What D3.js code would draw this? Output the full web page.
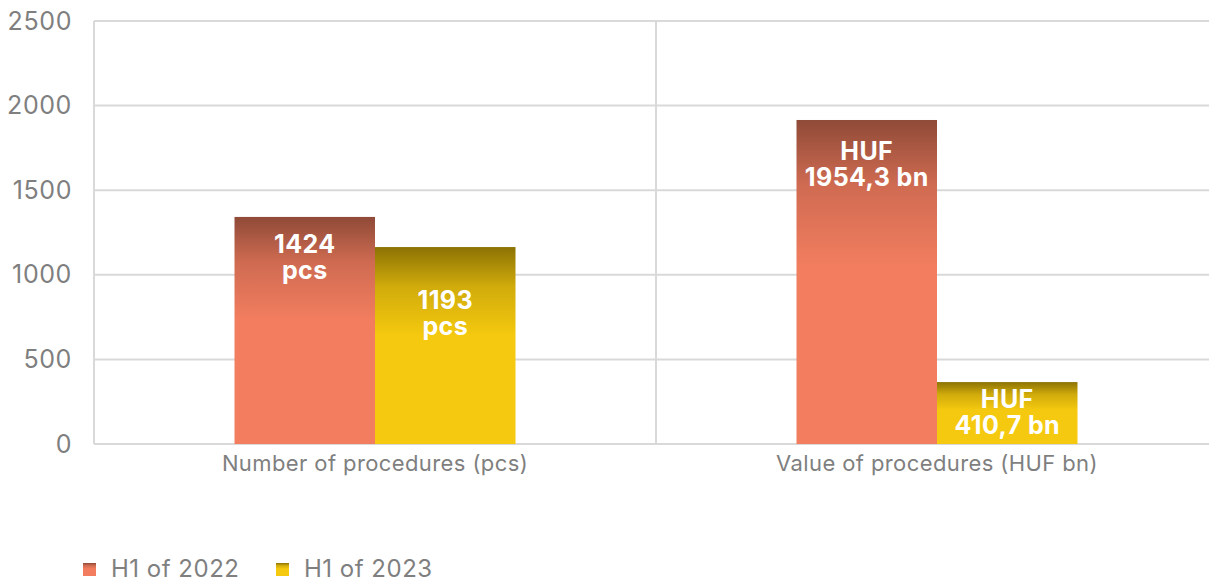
<!DOCTYPE html>
<html><head><meta charset="utf-8">
<script src="https://cdn.jsdelivr.net/npm/d3@7"></script>
<style>
html,body{margin:0;padding:0;background:#fff;}
svg{display:block;}
text{font-family:Inter,"Open Sans",sans-serif;}
</style></head>
<body><svg id="c" width="1209" height="585"></svg>
<script>
// ---- data ----
const categories = ["Number of procedures (pcs)", "Value of procedures (HUF bn)"];
const seriesNames = ["H1 of 2022", "H1 of 2023"];
const values2022 = [1342, 1915];   // bar heights as drawn
const values2023 = [1164, 366];
const labels2022 = [["1424", "pcs"], ["HUF", "1954,3 bn"]];
const labels2023 = [["1193", "pcs"], ["HUF", "410,7 bn"]];
const yTicks = [0, 500, 1000, 1500, 2000, 2500];

// ---- layout ----
(function () {
const svg = d3.select("#c");
const mLeft = 94, mRight = 1218, mTop = 21, mBottom = 444;
const y = d3.scaleLinear().domain([0, 2500]).range([mBottom, mTop]);
const x0 = d3.scaleBand().domain(categories).range([mLeft, mRight]).padding(0);
const x1 = d3.scaleBand().domain(seriesNames).range([0, x0.bandwidth()]).paddingInner(0).paddingOuter(1);

const colors = {
  "H1 of 2022": {top: "#8f4a38", bottom: "#f27d5f"},
  "H1 of 2023": {top: "#8c7204", bottom: "#f5c90f"}
};
const defs = svg.append("defs");
seriesNames.forEach((s, i) => {
  const g = defs.append("linearGradient").attr("id", "g" + i)
    .attr("x1", 0).attr("y1", 0).attr("x2", 0).attr("y2", 1);
  g.append("stop").attr("offset", 0).attr("stop-color", colors[s].top);
  g.append("stop").attr("offset", 0.2).attr("stop-color", d3.interpolateRgb(colors[s].top, colors[s].bottom)(0.65));
  g.append("stop").attr("offset", 0.45).attr("stop-color", colors[s].bottom);
  g.append("stop").attr("offset", 1).attr("stop-color", colors[s].bottom);
});

// gridlines
svg.append("g").selectAll("line").data(yTicks).join("line")
  .attr("x1", mLeft).attr("x2", mRight)
  .attr("y1", d => y(d)).attr("y2", d => y(d))
  .attr("stroke", "#d9d9d9").attr("stroke-width", 2);
// vertical separators
const seps = [mLeft].concat(categories.map(c => x0(c) + x0.bandwidth()));
svg.append("g").selectAll("line").data(seps).join("line")
  .attr("x1", d => d).attr("x2", d => d)
  .attr("y1", mTop).attr("y2", mBottom)
  .attr("stroke", "#d9d9d9").attr("stroke-width", 2);

// y tick labels
const yAxis = d3.axisLeft(y).tickValues(yTicks).tickSize(0).tickPadding(22).tickFormat(d3.format("d"));
const ya = svg.append("g").attr("transform", `translate(${mLeft},0)`).call(yAxis);
ya.select(".domain").remove();
ya.selectAll("text").attr("fill", "#7f7f7f").style("font-size", "25px")
  .style("letter-spacing", "0.6px").style("font-family", "Inter, sans-serif");

// x category labels
const xAxis = d3.axisBottom(x0).tickSize(0).tickPadding(0);
const xa = svg.append("g").attr("transform", `translate(0,${mBottom})`).call(xAxis);
xa.select(".domain").remove();
xa.selectAll("text").attr("fill", "#7f7f7f").attr("dy", 0).attr("y", 27)
  .style("font-size", "22px").style("letter-spacing", "0.4px").style("font-family", "Inter, sans-serif");

// bars
const rows = [];
categories.forEach((c, ci) => {
  rows.push({c, s: seriesNames[0], si: 0, v: values2022[ci], lab: labels2022[ci]});
  rows.push({c, s: seriesNames[1], si: 1, v: values2023[ci], lab: labels2023[ci]});
});
const labelDy = [36, 62, 40, 26];
svg.append("g").selectAll("rect").data(rows).join("rect")
  .attr("x", d => x0(d.c) + x1(d.s))
  .attr("width", x1.bandwidth())
  .attr("y", d => y(d.v))
  .attr("height", d => y(0) - y(d.v))
  .attr("fill", d => `url(#g${d.si})`);

const lg = svg.append("g").selectAll("text").data(rows).join("text")
  .attr("x", d => x0(d.c) + x1(d.s) + x1.bandwidth() / 2)
  .attr("y", (d, i) => y(d.v) + labelDy[i])
  .attr("text-anchor", "middle").attr("fill", "#fff")
  .style("font-size", "25px").style("letter-spacing", "0.4px").style("font-weight", 700);
lg.selectAll("tspan").data(d => d.lab.map((t, k) => ({t, k, x: x0(d.c) + x1(d.s) + x1.bandwidth() / 2})))
  .join("tspan").attr("x", d => d.x).attr("dy", d => d.k ? 26 : 0).text(d => d.t);

// legend
const legendX = [83, 276];
const leg = svg.append("g").selectAll("g").data(seriesNames).join("g")
  .attr("transform", (d, i) => `translate(${legendX[i]},563)`);
leg.append("rect").attr("width", 13).attr("height", 13).attr("fill", (d, i) => `url(#g${i})`);
leg.append("text").attr("x", 28).attr("y", 13.5).attr("fill", "#7f7f7f")
  .style("font-size", "24px").style("letter-spacing", "0.5px").text(d => d);
})();
</script>
</body></html>
